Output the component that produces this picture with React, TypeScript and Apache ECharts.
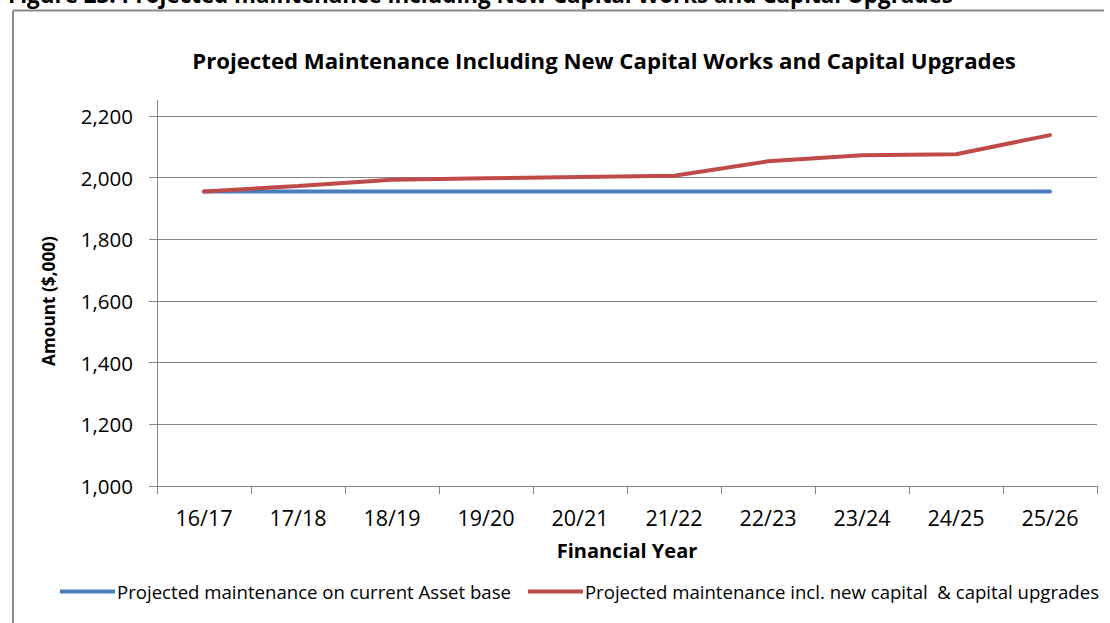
import React, { useEffect, useRef } from "react";
import * as echarts from "echarts";

const categories = ["16/17", "17/18", "18/19", "19/20", "20/21", "21/22", "22/23", "23/24", "24/25", "25/26"];
const currentBase = [1955, 1955, 1955, 1955, 1955, 1955, 1955, 1955, 1955, 1955];
const withCapital = [1955, 1973, 1993, 1998, 2002, 2006, 2053, 2073, 2076, 2138];
const seriesNames = [
  "Projected maintenance on current Asset base",
  "Projected maintenance incl. new capital  & capital upgrades",
];
const chartTitle = "Projected Maintenance Including New Capital Works and Capital Upgrades";
const figureCaption = "Figure 23: Projected maintenance including New Capital Works and Capital Upgrades";
const yMin = 1000;
const yMax = 2200;
const yStep = 200;

const FONT = "'Open Sans', Lato, sans-serif";

export default function App() {
  const ref = useRef<HTMLDivElement>(null);
  useEffect(() => {
    if (!ref.current) return;
    const chart = echarts.init(ref.current, undefined, { renderer: "svg" });
    chart.setOption({
      animation: false,
      backgroundColor: "#ffffff",
      textStyle: { fontFamily: FONT },
      title: {
        text: chartTitle,
        left: 599,
        textAlign: "center",
        top: 44,
        textStyle: { fontSize: 22.2, fontWeight: "bold", color: "#000", fontFamily: FONT },
      },
      legend: {
        bottom: 17,
        left: 55,
        width: 1055,
        itemWidth: 55,
        itemHeight: 4,
        itemGap: 17,
        icon: "rect",
        textStyle: { fontSize: 18.6, color: "#000", fontFamily: FONT, padding: [0, 0, 0, -3] },
        data: seriesNames,
      },
      grid: { left: 157, right: 13, top: 116, bottom: 137, containLabel: false },
      xAxis: {
        type: "category",
        data: categories,
        boundaryGap: true,
        name: "Financial Year",
        nameLocation: "middle",
        nameGap: 54,
        nameTextStyle: { fontSize: 20, fontWeight: "bold", color: "#000", fontFamily: FONT },
        axisLine: { lineStyle: { color: "#868686", width: 1 } },
        axisTick: { show: true, length: 8, lineStyle: { color: "#868686" } },
        axisLabel: { fontSize: 21.5, color: "#000", margin: 20, fontFamily: FONT },
      },
      yAxis: {
        type: "value",
        min: yMin,
        max: yMax,
        interval: yStep,
        name: "Amount ($,000)",
        nameLocation: "middle",
        nameGap: 100,
        nameRotate: 90,
        nameTextStyle: { fontSize: 17.2, fontWeight: "bold", color: "#000", fontFamily: FONT },
        axisLine: { show: true, lineStyle: { color: "#868686", width: 1 } },
        axisTick: { show: true, length: 8, lineStyle: { color: "#868686" } },
        axisLabel: {
          fontSize: 20.5,
          color: "#000",
          margin: 24,
          fontFamily: FONT,
          formatter: (v: number) => v.toLocaleString("en-US"),
        },
        splitLine: { show: true, lineStyle: { color: "#868686", width: 1 } },
      },
      graphic: [
        {
          type: "line",
          shape: { x1: 13, y1: 10.5, x2: 1104, y2: 10.5 },
          style: { stroke: "#8a8a8a", lineWidth: 2 },
        },
        {
          type: "line",
          shape: { x1: 13, y1: 10.5, x2: 13, y2: 623 },
          style: { stroke: "#8a8a8a", lineWidth: 2 },
        },
        {
          type: "line",
          shape: { x1: 157.5, y1: 100, x2: 157.5, y2: 116 },
          style: { stroke: "#868686", lineWidth: 1 },
        },
        {
          type: "text",
          x: 8,
          y: -17,
          style: { text: figureCaption, fontSize: 22.4, fontWeight: "bold", fill: "#000", fontFamily: FONT },
        },
      ],
      series: [
        {
          name: seriesNames[0],
          type: "line",
          data: currentBase,
          showSymbol: false,
          symbol: "none",
          lineStyle: { color: "#4A7EBB", width: 4, cap: "round" },
          itemStyle: { color: "#4A7EBB" },
          z: 2,
        },
        {
          name: seriesNames[1],
          type: "line",
          data: withCapital,
          showSymbol: false,
          symbol: "none",
          lineStyle: { color: "#BE4B48", width: 4, cap: "round" },
          itemStyle: { color: "#BE4B48" },
          z: 3,
        },
      ],
    });
    return () => chart.dispose();
  }, []);
  return (
    <div
      ref={ref}
      style={{ position: "absolute", left: 0, top: 0, width: 1110, height: 623 }}
    />
  );
}
